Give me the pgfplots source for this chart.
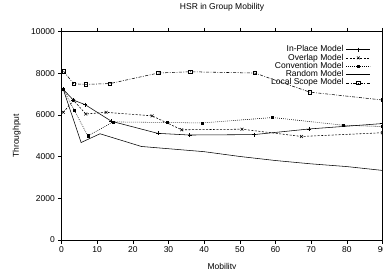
\documentclass[border=0pt]{standalone}
\usepackage{fontspec}
\setmainfont{Liberation Sans}
\usepackage{pgfplots}
\pgfplotsset{compat=1.18}
\begin{document}
\fontsize{8.5}{10}\selectfont
\begin{tikzpicture}
\begin{axis}[
  scale only axis, width=321pt, height=208.3pt,
  xmin=0, xmax=90, ymin=0, ymax=10000,
  xtick={0,10,...,90}, ytick={0,2000,...,10000},
  tick align=outside, major tick length=3.7pt,
  xtick pos=both, ytick pos=both,
  scaled y ticks=false,
  /pgf/number format/assume math mode=true,
  yticklabel style={/pgf/number format/1000 sep={}},
  tick label style={font=\fontsize{8.5}{10}\selectfont, black},
  tick style={black, line width=0.6pt},
  axis line style={line width=0.8pt},
  title={HSR in Group Mobility},
  title style={at={(axis description cs:0.5,1.0867)}, anchor=center, font=\fontsize{8.5}{10}\selectfont},
  xlabel={Mobility}, ylabel={Throughput},
  every axis x label/.style={at={(axis description cs:0.5,-0.1296)}, anchor=center, font=\fontsize{8.5}{10}\selectfont},
  every axis y label/.style={at={(axis description cs:-0.1398,0.5)}, rotate=90, anchor=center, font=\fontsize{8.5}{10}\selectfont},
  legend plot pos=right,
  legend cell align=right,
  legend style={at={(axis description cs:0.9637,0.935)}, anchor=north east, draw=none, fill=none,
    inner sep=0pt, font=\fontsize{8.5}{10}\selectfont,
    nodes={inner sep=0.15pt, text height=6.2pt, text depth=1.8pt},
    column sep=2.5pt},
  legend image code/.code={\draw[mark repeat=2,mark phase=2,#1] plot coordinates {(0pt,0pt) (12pt,0pt) (24pt,0pt)};},
  every axis plot/.append style={black, line width=0.55pt},
]
\addplot[solid, mark=+, mark size=2pt, mark options={solid}] coordinates {
 (0.5,7230) (3.3,6720) (6.6,6500) (14,5700) (27,5120) (35.9,5040) (54,5060) (69.4,5330) (90,5590)};
\addlegendentry{In-Place Model}
\addplot[dash pattern=on 2pt off 1.5pt, mark=x, mark size=2pt, mark options={solid}] coordinates {
 (0.5,6130) (3.4,6700) (6.8,6050) (12.5,6130) (25.4,5960) (33.7,5290) (50.6,5320) (67.3,4970) (90,5150)};
\addlegendentry{Overlap Model}
\addplot[dash pattern=on 0.8pt off 1.2pt, mark=square*, mark size=1.1pt, mark options={solid}] coordinates {
 (0.5,7250) (3.6,6220) (7.4,5000) (14.5,5670) (29.6,5640) (39.5,5620) (59.2,5880) (79,5510) (90,5450)};
\addlegendentry{Convention Model}
\addplot[solid] coordinates {
 (0.5,7230) (5.5,4680) (10.8,5100) (22.4,4490) (40,4240) (50,4010) (60,3815) (70,3655) (80,3525) (90,3340)};
\addlegendentry{Random Model}
\addplot[dash pattern=on 3pt off 1.5pt on 0.8pt off 1.5pt, mark=square, mark size=1.7pt, mark options={solid}] coordinates {
 (0.6,8100) (3.4,7500) (6.8,7470) (13.6,7510) (27.1,8015) (36.1,8077) (54.2,8015) (69.6,7100) (90,6720)};
\addlegendentry{Local Scope Model}
\end{axis}
\pgfresetboundingbox
\path ([shift={(-61.5pt,-28pt)}]current axis.south west) rectangle ([shift={(321.5pt,31.7pt)}]current axis.north west);
\end{tikzpicture}
\end{document}
